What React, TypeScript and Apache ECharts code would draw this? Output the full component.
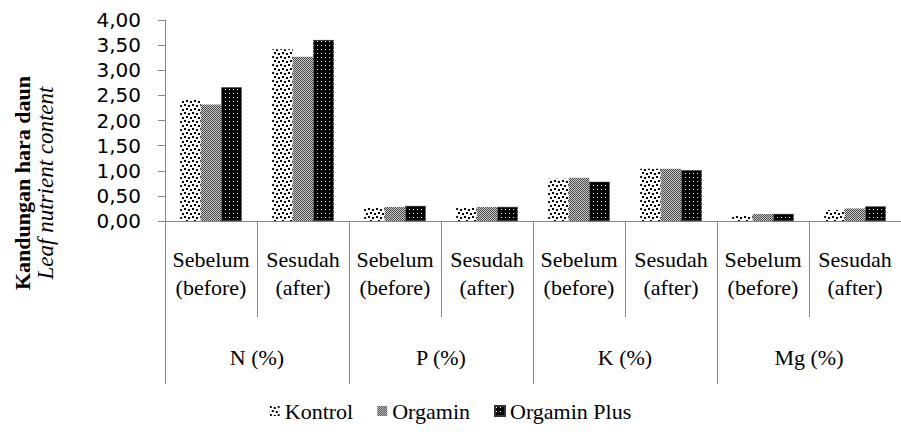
import React, { useEffect, useRef } from "react";
import * as echarts from "echarts";

const subCategories = [
  "Sebelum\n(before)", "Sesudah\n(after)",
  "Sebelum\n(before)", "Sesudah\n(after)",
  "Sebelum\n(before)", "Sesudah\n(after)",
  "Sebelum\n(before)", "Sesudah\n(after)",
];
const groups = ["N (%)", "P (%)", "K (%)", "Mg (%)"];
const kontrol = [2.42, 3.42, 0.27, 0.27, 0.84, 1.04, 0.1, 0.22];
const organim = [2.32, 3.27, 0.28, 0.28, 0.86, 1.04, 0.14, 0.25];
const organimPlus = [2.66, 3.6, 0.3, 0.28, 0.78, 1.01, 0.14, 0.29];
const yMin = 0;
const yMax = 4;
const yInterval = 0.5;

function makeTile(size: number, bg: string, fg: string, dots: number[][], dot: number) {
  const c = document.createElement("canvas");
  c.width = size;
  c.height = size;
  const ctx = c.getContext("2d")!;
  ctx.fillStyle = bg;
  ctx.fillRect(0, 0, size, size);
  ctx.fillStyle = fg;
  dots.forEach(([x, y]) => ctx.fillRect(x, y, dot, dot));
  return { image: c.toDataURL(), repeat: "repeat", imageWidth: size, imageHeight: size };
}

export default function App() {
  const ref = useRef<HTMLDivElement>(null);
  useEffect(() => {
    if (!ref.current) return;
    const chart = echarts.init(ref.current, null, { renderer: "svg" });
    const pKontrol = makeTile(8, "#ffffff", "#000000", [[0, 0], [4, 1], [2, 4], [6, 5]], 2);
    const pOrgamin = makeTile(2, "#c8c8c8", "#4a4a4a", [[0, 0], [1, 1]], 1);
    const pPlus = makeTile(4, "#000000", "#ffffff", [[1, 1]], 1);
    const axisColor = "#868686";
    const serif = "Liberation Serif";
    const barW = 20.5;
    chart.setOption({
      animation: false,
      textStyle: { fontFamily: serif },
      grid: { left: 165, right: 0, top: 20, bottom: 211, containLabel: false },
      legend: {
        top: 395,
        left: "center",
        itemWidth: 10,
        itemHeight: 10,
        itemGap: 24,
        icon: "rect",
        textStyle: { fontFamily: serif, fontSize: 22, color: "#000" },
        data: ["Kontrol", "Orgamin", "Orgamin Plus"],
      },
      xAxis: [
        {
          type: "category",
          data: subCategories,
          position: "bottom",
          axisLine: { show: true, lineStyle: { color: axisColor, width: 1 } },
          axisTick: { show: true, interval: 0, length: 96, lineStyle: { color: axisColor } },
          axisLabel: {
            interval: 0,
            margin: 24,
            fontFamily: serif,
            fontSize: 22,
            lineHeight: 28,
            color: "#000",
          },
        },
        {
          type: "category",
          data: groups,
          position: "bottom",
          offset: 0,
          axisLine: { show: false },
          axisTick: { show: true, interval: 0, length: 163, lineStyle: { color: axisColor } },
          axisLabel: {
            interval: 0,
            margin: 125,
            fontFamily: serif,
            fontSize: 22,
            color: "#000",
          },
        },
      ],
      yAxis: {
        type: "value",
        min: yMin,
        max: yMax,
        interval: yInterval,
        splitLine: { show: false },
        axisLine: { show: true, lineStyle: { color: axisColor } },
        axisTick: { show: true, length: 7, lineStyle: { color: axisColor } },
        axisLabel: {
          margin: 24,
          fontFamily: "DejaVu Sans",
          fontSize: 20,
          color: "#000",
          formatter: (v: number) => v.toFixed(2).replace(".", ","),
        },
      },
      graphic: [
        {
          type: "text",
          x: 22,
          y: 183,
          rotation: Math.PI / 2,
          style: {
            text: "Kandungan hara daun",
            fontFamily: serif,
            fontWeight: "bold",
            fontSize: 22,
            fill: "#000",
            align: "center",
            verticalAlign: "middle",
          },
        },
        {
          type: "text",
          x: 45,
          y: 183,
          rotation: Math.PI / 2,
          style: {
            text: "Leaf nutrient content",
            fontFamily: serif,
            fontStyle: "italic",
            fontSize: 23,
            fill: "#000",
            align: "center",
            verticalAlign: "middle",
          },
        },
      ],
      series: [
        {
          name: "Kontrol",
          type: "bar",
          xAxisIndex: 0,
          data: kontrol,
          barWidth: barW,
          barGap: "0%",
          itemStyle: { color: pKontrol },
        },
        {
          name: "Orgamin",
          type: "bar",
          xAxisIndex: 0,
          data: organim,
          barWidth: barW,
          barGap: "0%",
          itemStyle: { color: pOrgamin },
        },
        {
          name: "Orgamin Plus",
          type: "bar",
          xAxisIndex: 0,
          data: organimPlus,
          barWidth: barW,
          barGap: "0%",
          itemStyle: { color: pPlus, borderColor: "#333", borderWidth: 0.5 },
        },
      ],
    });
    return () => chart.dispose();
  }, []);
  return (
    <div
      ref={ref}
      style={{ position: "absolute", left: 0, top: 0, width: 901, height: 432, background: "#fff" }}
    />
  );
}
